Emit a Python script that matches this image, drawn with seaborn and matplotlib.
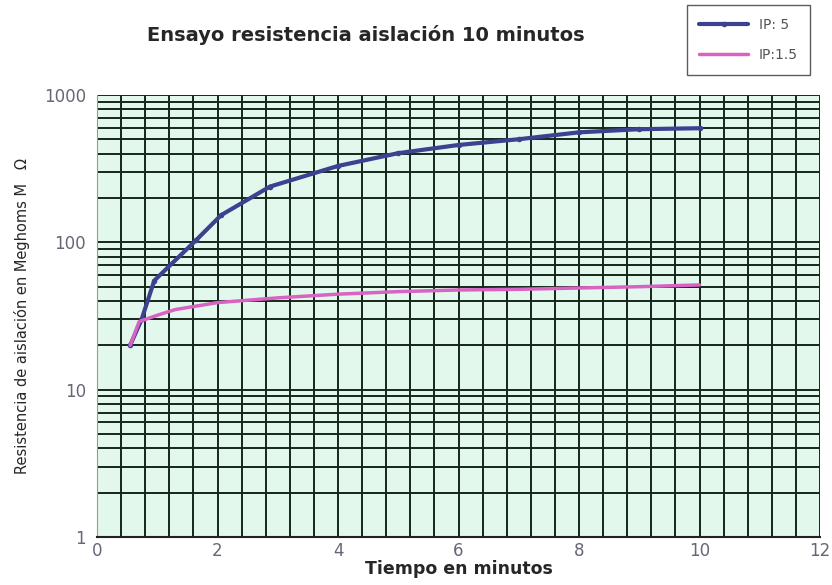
import numpy as np
import pandas as pd
import matplotlib.pyplot as plt
import seaborn as sns
from matplotlib.ticker import FixedLocator, LogLocator, NullFormatter

# lecturas del ensayo
t_ip5 = [0.55, 0.74, 0.95, 1.65, 2.06, 2.87, 4, 5, 6, 7, 8, 9, 10]
r_ip5 = [20, 30, 55, 104, 153, 239, 330, 403, 458, 501, 558, 586, 595]
t_ip15 = [0.55, 0.7, 1.0, 1.3, 2, 3, 4, 5, 6, 7, 8, 9, 10]
r_ip15 = [20, 29, 32, 35, 39, 42, 44.5, 46.3, 47.5, 48, 49, 50, 51.4]
series = ["IP: 5", "IP:1.5"]

df = pd.concat([
    pd.DataFrame({"t": t_ip5, "r": r_ip5, "serie": series[0]}),
    pd.DataFrame({"t": t_ip15, "r": r_ip15, "serie": series[1]}),
])

sns.set_style("white")
fig = plt.figure(figsize=(8.32, 5.85), dpi=100)
ax = fig.add_axes([0.1166, 0.082, 0.869, 0.7556])
ax.set_facecolor("#e2f8ec")

sns.lineplot(data=df, x="t", y="r", hue="serie", palette=["#3c4190", "#d863c2"],
             marker="o", markersize=4, markeredgewidth=0, linewidth=3, ax=ax,
             legend=False)
ax.lines[1].set_linewidth(2.5)
ax.lines[1].set_marker("")

ax.set_yscale("log")
ax.set_xlim(0, 12)
ax.set_ylim(1, 1000)
ax.set_xticks([0, 2, 4, 6, 8, 10, 12])
ax.xaxis.set_minor_locator(FixedLocator(np.arange(0, 12.01, 0.4)))
ax.yaxis.set_major_locator(FixedLocator([1, 10, 100, 1000]))
ax.yaxis.set_major_formatter(plt.FuncFormatter(lambda v, p: f"{int(v)}"))
ax.yaxis.set_minor_locator(LogLocator(base=10, subs=np.arange(2, 10)))
ax.yaxis.set_minor_formatter(NullFormatter())
ax.grid(which="both", color="#16261a", linewidth=1.4)
ax.set_axisbelow(True)
ax.tick_params(which="both", length=0, labelcolor="#666677", labelsize=12)
ax.tick_params(axis="y", pad=8)
for s in ["top", "right"]:
    ax.spines[s].set_visible(False)
ax.spines["left"].set_color("#999999")
ax.spines["bottom"].set_color("#222222")
ax.spines["bottom"].set_linewidth(1.5)

ax.set_xlabel("Tiempo en minutos", fontsize=12.5, fontweight="bold", labelpad=0)
ax.set_ylabel("Resistencia de aislación en Meghoms M   Ω", fontsize=10.5, labelpad=10)
fig.text(0.44, 0.94, "Ensayo resistencia aislación 10 minutos", fontsize=14,
         fontweight="bold", ha="center", va="center")

leg = ax.legend(handles=ax.lines[:2], labels=series, loc="lower left",
                bbox_to_anchor=(0.806, 1.03), frameon=True,
                fancybox=False, edgecolor="#333333", fontsize=10,
                handlelength=3.5, labelspacing=1.2, borderpad=0.9)
leg.get_frame().set_linewidth(1.0)
for txt in leg.get_texts():
    txt.set_color("#555555")

fig.savefig("out.png", dpi=100)
